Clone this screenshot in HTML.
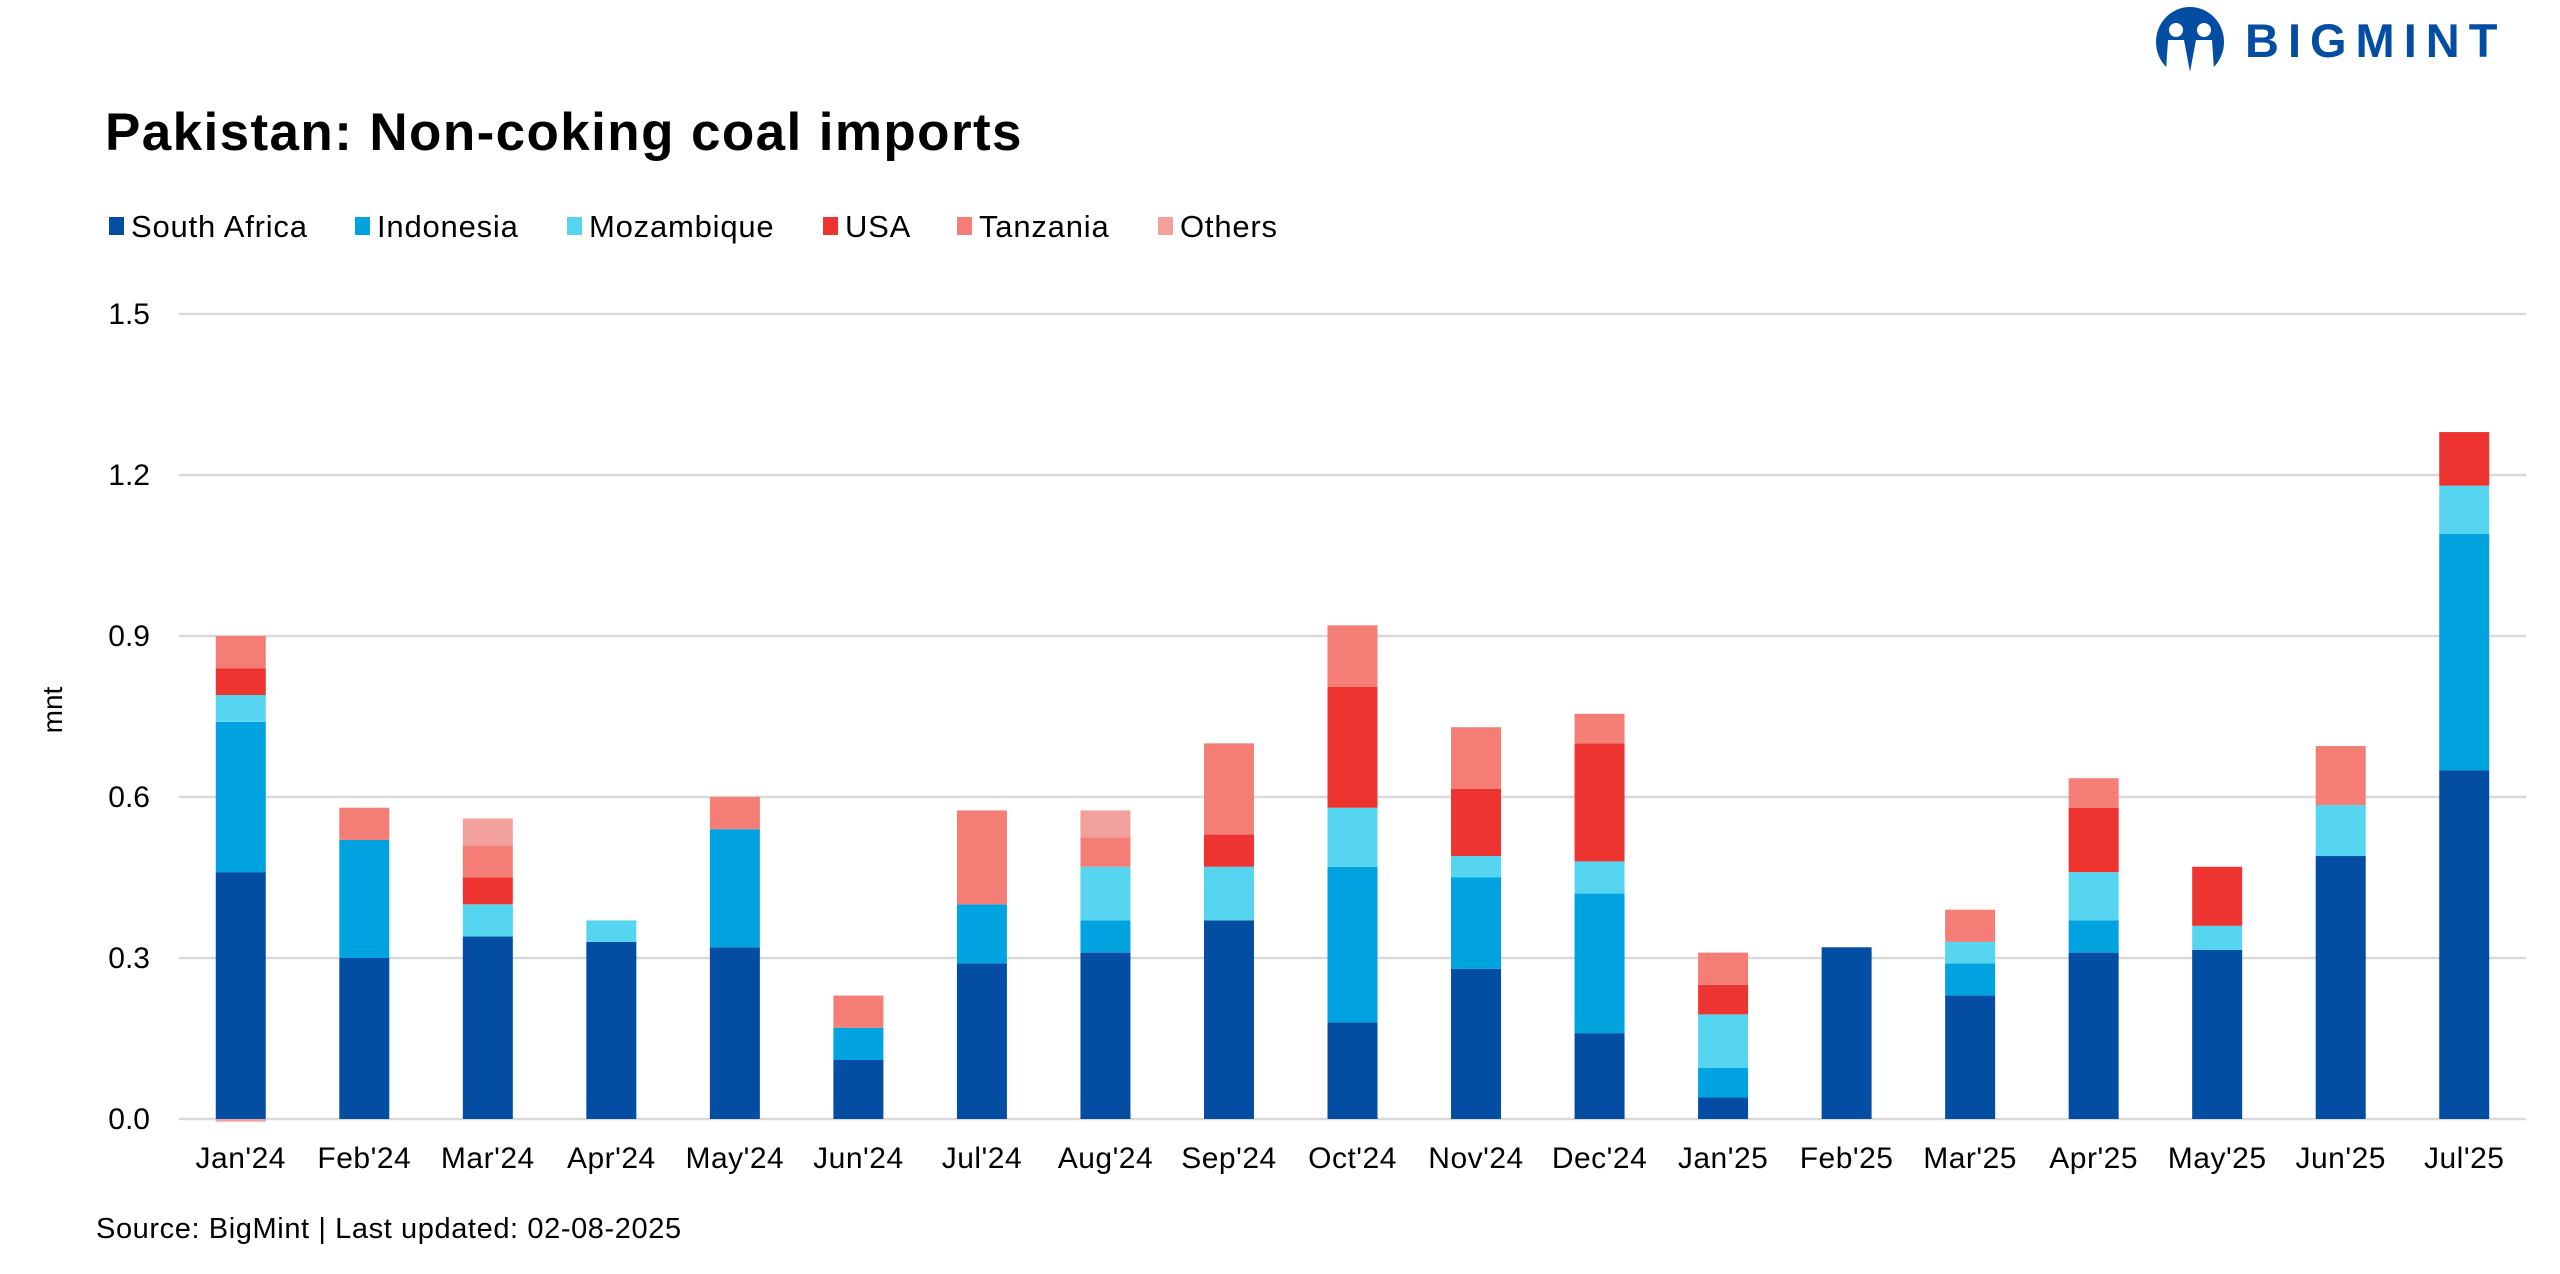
<!DOCTYPE html>
<html><head><meta charset="utf-8">
<style>
html,body{margin:0;padding:0;background:#fff;}
body{width:2560px;height:1269px;overflow:hidden;font-family:"Liberation Sans",sans-serif;}
</style></head>
<body>
<svg id="chart" width="2560" height="1269" xmlns="http://www.w3.org/2000/svg" font-family="Liberation Sans, sans-serif">
  <g>
    <ellipse cx="2190" cy="42" rx="34" ry="35" fill="#034ea2"/>
    <circle cx="2176" cy="30" r="7" fill="#fff"/>
    <circle cx="2204" cy="30" r="7" fill="#fff"/>
    <path d="M2168 40 L2184 40 L2190 72 L2196 40 L2212 40 L2214 70 L2220 70 L2220 80 L2160 80 L2160 70 L2166 70 Z" fill="#fff"/>
    <text x="2245" y="57" font-size="47" font-weight="bold" fill="#034ea2" letter-spacing="9">BIGMINT</text>
  </g>
  <text x="105" y="150" font-size="53" font-weight="bold" fill="#000" letter-spacing="1.4">Pakistan: Non-coking coal imports</text>
  <g id="legend"></g>
  <g id="grid"></g>
  <g id="bars"></g>
  <g id="xlabels"></g>
  <text x="62" y="710" font-size="28" fill="#000" transform="rotate(-90 62 710)" text-anchor="middle">mnt</text>
  <text x="96" y="1238" font-size="29" fill="#000" letter-spacing="0.6">Source: BigMint | Last updated: 02-08-2025</text>
</svg>
<script>
const categories = ["Jan'24","Feb'24","Mar'24","Apr'24","May'24","Jun'24","Jul'24","Aug'24","Sep'24","Oct'24","Nov'24","Dec'24","Jan'25","Feb'25","Mar'25","Apr'25","May'25","Jun'25","Jul'25"];
const seriesNames = ["South Africa","Indonesia","Mozambique","USA","Tanzania","Others"];
const southAfrica = [0.46,0.30,0.34,0.33,0.32,0.11,0.29,0.31,0.37,0.18,0.28,0.16,0.04,0.32,0.23,0.31,0.315,0.49,0.65];
const indonesia   = [0.28,0.22,0,0,0.22,0.06,0.11,0.06,0,0.29,0.17,0.26,0.055,0,0.06,0.06,0,0,0.44];
const mozambique  = [0.05,0,0.06,0.04,0,0,0,0.10,0.10,0.11,0.04,0.06,0.10,0,0.04,0.09,0.045,0.095,0.09];
const usa         = [0.05,0,0.05,0,0,0,0,0,0.06,0.225,0.125,0.22,0.055,0,0,0.12,0.11,0,0.10];
const tanzania    = [0.06,0.06,0.06,0,0.06,0.06,0.175,0.055,0.17,0.115,0.115,0.055,0.06,0,0.06,0.055,0,0.11,0];
const others      = [-0.005,0,0.05,0,0,0,0,0.05,0,0,0,0,0,0,0,0,0,0,0];
const yTicks = [0,0.3,0.6,0.9,1.2,1.5];
const yTickLabels = ["0.0","0.3","0.6","0.9","1.2","1.5"];

const colors = ["#034ea2","#00a3e0","#55d5f0","#ee3431","#f47e76","#f2a09c"];
const NS="http://www.w3.org/2000/svg";
const plotL=179, plotR=2526, y0=1119, pxPerUnit=805/1.5;
const bandW=(plotR-plotL)/categories.length, barW=50;
const yScale=v=>y0-v*pxPerUnit;
const xCenter=i=>plotL+bandW*(i+0.5);
function mk(tag,attrs,parent){const e=document.createElementNS(NS,tag);for(const k in attrs)e.setAttribute(k,attrs[k]);parent.appendChild(e);return e;}

const grid=document.getElementById('grid');
yTicks.forEach((t,i)=>{
  const l=mk('line',{x1:plotL,x2:plotR,y1:yScale(t),y2:yScale(t),stroke:'#d9d9d9','stroke-width':2.5},grid);
  
  
  const tx=mk('text',{x:150,y:yScale(t)+10,'font-size':30,'text-anchor':'end',fill:'#000'},grid);
  tx.textContent=yTickLabels[i];
  
  
});

const series=[southAfrica,indonesia,mozambique,usa,tanzania,others];
const bars=document.getElementById('bars');
categories.forEach((c,i)=>{
  let pos=0,neg=0;
  series.forEach((s,k)=>{
    const v=s[i]; if(!v) return;
    let top,h;
    if(v>0){top=yScale(pos+v);h=v*pxPerUnit;pos+=v;}
    else{top=yScale(neg);h=-v*pxPerUnit;neg+=v;}
    const r=mk('rect',{x:xCenter(i)-barW/2,y:top,width:barW,height:Math.max(h,2),fill:colors[k]},bars);
    
    
  });
});

const xl=document.getElementById('xlabels');
categories.forEach((c,i)=>{
  const t=mk('text',{x:xCenter(i),y:1168,'font-size':30,'text-anchor':'middle',fill:'#000','letter-spacing':0.5},xl);
  t.textContent=c;
  
  
});

const legendX=[109,355,567,823,957,1158];
const lg=document.getElementById('legend');
seriesNames.forEach((n,k)=>{
  const g=mk('g',{},lg);
  
  
  mk('rect',{x:legendX[k],y:217,width:15,height:18,fill:colors[k]},g);
  const t=mk('text',{x:legendX[k]+22,y:237,'font-size':31,fill:'#000','letter-spacing':0.8},g);
  t.textContent=n;
});
</script>
</body></html>
